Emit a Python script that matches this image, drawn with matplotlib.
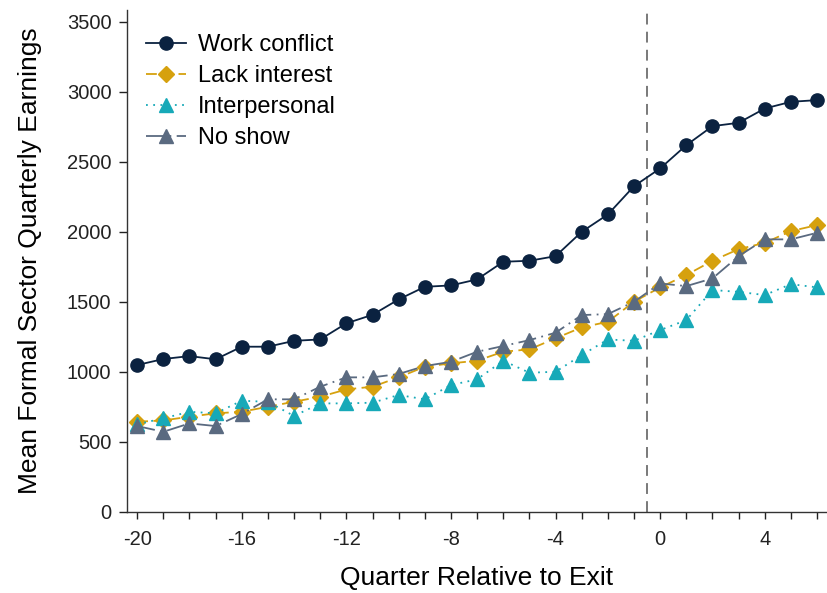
import matplotlib
matplotlib.use("Agg")
import matplotlib.pyplot as plt
import numpy as np

plt.rcParams["font.family"] = ["Liberation Sans", "DejaVu Sans"]

# ---------------------------------------------------------------------------
# Datos
# ---------------------------------------------------------------------------
quarters = list(range(-20, 7))

work_conflict = [1048, 1091, 1112, 1089, 1179, 1179, 1221, 1231, 1346, 1407,
                 1517, 1607, 1617, 1660, 1786, 1793, 1826, 2000, 2124, 2326,
                 2453, 2619, 2755, 2779, 2881, 2929, 2941]

lack_interest = [643, 652, 679, 703, 714, 750, 786, 821, 874, 893,
                 960, 1036, 1060, 1079, 1143, 1160, 1239, 1317, 1357, 1500,
                 1603, 1691, 1793, 1876, 1921, 2005, 2048]

interpersonal = [625, 667, 714, 703, 793, 785, 684, 774, 774, 779,
                 834, 803, 905, 946, 1079, 993, 1000, 1119, 1231, 1221,
                 1298, 1369, 1584, 1571, 1548, 1626, 1603]

no_show = [612, 571, 631, 612, 698, 803, 803, 893, 960, 960,
           984, 1041, 1071, 1143, 1184, 1226, 1279, 1405, 1412, 1500,
           1631, 1612, 1667, 1826, 1946, 1946, 1993]

x_tick_labels = [-20, -16, -12, -8, -4, 0, 4]
y_ticks = [0, 500, 1000, 1500, 2000, 2500, 3000, 3500]

# ---------------------------------------------------------------------------
# Figura
# ---------------------------------------------------------------------------
fig = plt.figure(figsize=(8.27, 5.93), dpi=100)
ax = fig.add_axes([126.7 / 827, 1 - 511.7 / 593, 1 - 126.7 / 827, (511.7 - 10) / 593])

lw = 1.3
ax.plot(quarters, work_conflict, color="#0b2240", lw=lw, ls="-",
        marker="o", ms=9.5, label="Work conflict", zorder=5)
ax.plot(quarters, lack_interest, color="#d6a10e", lw=lw, ls=(0, (6, 3)),
        marker="D", ms=8.5, label="Lack interest", zorder=3)
ax.plot(quarters, interpersonal, color="#17a9b8", lw=lw, ls=(0, (1, 3)),
        marker="^", ms=9.5, label="Interpersonal", zorder=4)
ax.plot(quarters, no_show, color="#5a6a80", lw=lw, ls=(0, (10, 3, 1, 3)),
        marker="^", ms=9.5, label="No show", zorder=4)

ax.axvline(-0.5, color="#6e6e6e", lw=1.3, ls=(0, (6, 4)), zorder=1)

ax.set_xlim(-20.4, 6.38)
ax.set_ylim(0, 3585)

ax.set_xticks(quarters, minor=False)
ax.set_xticklabels([str(q) if q in x_tick_labels else "" for q in quarters])
ax.set_yticks(y_ticks)

ax.tick_params(axis="x", length=5.3, width=1, pad=8, labelsize=14.5, colors="#222222")
ax.tick_params(axis="y", length=6, width=1, pad=5, labelsize=14.5, colors="#222222")

for side in ["top", "right"]:
    ax.spines[side].set_visible(False)
for side in ["left", "bottom"]:
    ax.spines[side].set_color("#333333")
    ax.spines[side].set_linewidth(1)

ax.set_xlabel("Quarter Relative to Exit", fontsize=19, labelpad=12)
ax.set_ylabel("Mean Formal Sector Quarterly Earnings", fontsize=19, labelpad=18)

ax.legend(loc="upper left", bbox_to_anchor=(0.0, 0.99), frameon=False,
          fontsize=17, handlelength=1.7, handletextpad=0.5, labelspacing=0.38,
          borderaxespad=0.3, borderpad=0.5)

fig.savefig("out.png", dpi=100)
